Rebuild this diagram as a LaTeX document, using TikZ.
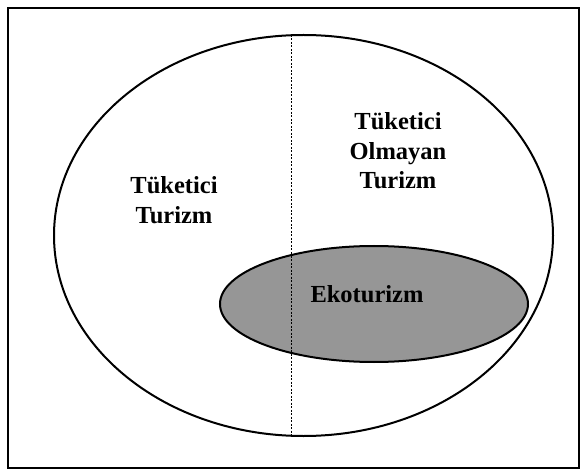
\documentclass[tikz,border=0pt]{standalone}
\usepackage{fontspec}
\setmainfont{Liberation Serif}
\usetikzlibrary{shapes.geometric}
\definecolor{ekogray}{RGB}{150,150,150}

\begin{document}
\begin{tikzpicture}[x=1pt,y=-1pt,
    oval/.style={ellipse,draw,line width=2pt,inner sep=0pt},
    lbl/.style={align=center,font=\fontsize{24.5}{29.5}\selectfont\bfseries}]
		\useasboundingbox (0,0) rectangle (587,476);
		\node[draw,line width=1.4pt,minimum width=571,minimum height=460,inner sep=0pt] (frame) at (293.5,238) {};
		
		\node[oval,minimum width=499,minimum height=401] (big) at (303.5,235.5) {};
		\node[oval,fill=ekogray,minimum width=308,minimum height=116] (eko) at (374,304) {};
		
		\coordinate (top) at (291.5,35);
		\coordinate (bottom) at (291.5,436.5);
		\draw[dashed,line width=0.6pt,dash pattern=on 2pt off 1.5pt] (top) -- (bottom);
		
		\node[lbl] (tuketici) at (174,200) {Tüketici\\Turizm};
		\node[lbl] (olmayan) at (398,151) {Tüketici\\Olmayan\\Turizm};
		\node[lbl] (ekoturizm) at (367,294) {Ekoturizm};
	\end{tikzpicture}
\end{document}
